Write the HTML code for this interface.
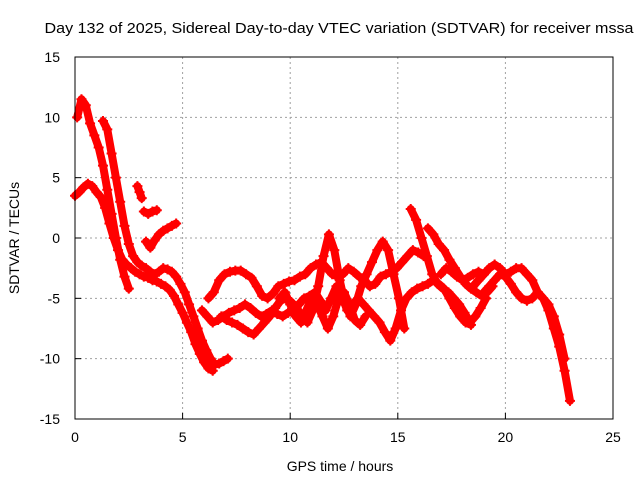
<!DOCTYPE html>
<html><head><meta charset="utf-8"><style>
body{margin:0;background:#fff}
svg{display:block;font-family:"Liberation Sans",sans-serif}
</style></head><body>
<svg id="chart" width="640" height="480">
<text x="339" y="33" font-size="15" text-anchor="middle" textLength="589" lengthAdjust="spacingAndGlyphs">Day 132 of 2025, Sidereal Day-to-day VTEC variation (SDTVAR) for receiver mssa</text>
<text x="340" y="471" font-size="14" text-anchor="middle">GPS time / hours</text>
<text transform="translate(19,238) rotate(-90)" font-size="14" text-anchor="middle">SDTVAR / TECUs</text>
<g id="grid"></g>
<g id="ticks"></g>
<g id="marks"></g>
<rect x="75" y="57" width="538" height="362" fill="none" stroke="#000" stroke-width="1"/>
</svg>
<script>
const xTicks=[0,5,10,15,20,25];
const yTicks=[-15,-10,-5,0,5,10,15];
const trackA_t0=0.1, trackA_dt=0.2;
const trackA_v=[10,11.5,11,9.5,8.5,7.5,6,4,2,0,-1.8,-3.2,-4.2];
const trackB_t0=0, trackB_dt=0.2;
const trackB_v=[3.5,3.8,4.2,4.5,4.3,3.8,3.4,2.5,1.2,0,-1,-1.8,-2.2,-2.5,-2.8,-3,-3.2,-3.3,-3.5,-3.6,-3.8,-4,-4.3,-4.8,-5.5,-6.2,-7,-7.8,-8.8,-9.6,-10.3,-10.8,-11];
const trackC_t0=1.3, trackC_dt=0.2;
const trackC_v=[9.7,9,7,5,3,1,-0.5,-1.5,-2,-2.3,-2.5,-2.8,-3,-2.8,-2.5,-2.6,-2.8,-3.2,-3.8,-4.5,-5.5,-6.5,-7.5,-8.5,-9.3,-10,-10.5,-10.4,-10.2,-10];
const trackG1_t0=2.9, trackG1_dt=0.1;
const trackG1_v=[4.3,3.8,3.3];
const trackG2_t0=3.2, trackG2_dt=0.2;
const trackG2_v=[2.2,2.0,2.2,2.3];
const trackG3_t0=3.3, trackG3_dt=0.2;
const trackG3_v=[-0.3,-0.8,-0.2,0.3,0.6,0.8,1.0,1.2];
const trackD_t0=6.2, trackD_dt=0.25;
const trackD_v=[-5,-4.5,-3.5,-3,-2.8,-2.7,-2.7,-3,-3.3,-4,-4.8,-5,-4.6,-4,-3.8,-3.6,-3.5,-3.2,-3,-2.5,-2.2,-2,-2.5,-3,-3.2,-3,-2.5,-2.8,-3.2,-3.5,-4,-3.8,-3.2,-3,-2.8,-2.5,-2,-1.5,-1,-1.2,-1.5];
const trackE_t0=5.9, trackE_dt=0.25;
const trackE_v=[-6,-6.5,-7,-6.8,-6.5,-6.2,-6,-5.8,-5.5,-5.8,-6.2,-6.5,-6.3,-6,-6.3,-6.5,-6.2,-6,-5.5,-5,-4.8,-4.5,-5.2,-6,-5,-4,-4.8,-6,-5.5,-5,-5.5,-6,-6.5,-7,-7.8,-8.5,-7.5,-6,-5,-4.5,-4.2,-4,-3.8,-3.5,-3.8,-4.2,-5,-5.8,-6.5,-7,-7.2];
const trackF_t0=6.8, trackF_dt=0.25;
const trackF_v=[-6.5,-6.8,-7,-7.2,-7.5,-7.8,-8,-7.5,-7,-6.5,-5.8,-5.2,-5,-5.3,-5.8,-6.5,-7,-6,-4,-1.5,0.3,-1,-3.5,-5.5,-6.5,-5.5,-4,-3,-2,-1,-0.3,-1,-3,-5,-7.5];
const trackH_t0=9.5, trackH_dt=0.25;
const trackH_v=[-5,-4.5,-5.5,-6.5,-7,-6,-5,-5.5,-6.5,-7.5,-6.5,-5,-4.5,-5.5,-6.8,-7.2,-6.5];
const trackI_t0=15.6, trackI_dt=0.25;
const trackI_v=[2.4,1.5,0,-1.5,-3,-3.8,-4.2,-4.5,-5,-5.5,-6.2,-7,-6.5,-5.8,-5];
const trackJ_t0=16.4, trackJ_dt=0.25;
const trackJ_v=[0.8,0.3,-0.5,-1,-1.8,-2.5,-3.2,-3.8,-4.2,-4.5,-4.8,-4.5,-4];
const trackK_t0=18.5, trackK_dt=0.25;
const trackK_v=[-4,-3.5,-3,-2.5,-2.2,-2.5,-3,-2.8,-2.5,-2.5,-3,-3.5,-4.5,-5,-6,-7.5,-9,-11,-13.5];
const trackL_t0=19, trackL_dt=0.25;
const trackL_v=[-4.5,-4,-3.5,-3,-3.2,-3.8,-4.5,-5,-5.2,-5,-4.5,-5,-5.5,-6.5,-8,-10];
const trackM_t0=17, trackM_dt=0.25;
const trackM_v=[-3,-2.5,-2.8,-3.2,-3.5,-3.3,-3,-2.8,-3];

const X0=75,X1=613,Y0=419,Y1=57;
function sx(t){return X0+(t-0)/(25-0)*(X1-X0);}
function sy(v){return Y0-(v+15)/30*(Y0-Y1);}
const NS='http://www.w3.org/2000/svg';
const grid=document.getElementById('grid'),ticks=document.getElementById('ticks'),marks=document.getElementById('marks');
function mk(tag,attrs,parent){const e=document.createElementNS(NS,tag);for(const k in attrs)e.setAttribute(k,attrs[k]);parent.appendChild(e);return e;}
xTicks.forEach(t=>{
  const x=sx(t);
  if(t>0&&t<25){const g=mk('line',{x1:x,y1:Y0,x2:x,y2:Y1,stroke:'#a0a0a0','stroke-dasharray':'2,3'},grid);
  
  }
  const l=mk('line',{x1:x,y1:Y0,x2:x,y2:Y0-6,stroke:'#000'},ticks);
  
  
  const tx=mk('text',{x:x,y:Y0+23,'font-size':'14','text-anchor':'middle'},ticks);
  tx.textContent=t;
  
  
});
yTicks.forEach(v=>{
  const y=sy(v);
  if(v>-15&&v<15){const g=mk('line',{x1:X0,y1:y,x2:X1,y2:y,stroke:'#a0a0a0','stroke-dasharray':'2,3'},grid);
  
  }
  const l=mk('line',{x1:X0,y1:y,x2:X0+6,y2:y,stroke:'#000'},ticks);
  
  
  const tx=mk('text',{x:X0-15,y:y+5,'font-size':'14','text-anchor':'end'},ticks);
  tx.textContent=v;
  
  
});
const tracks=[[trackA_t0,trackA_dt,trackA_v],[trackB_t0,trackB_dt,trackB_v],[trackC_t0,trackC_dt,trackC_v],[trackG1_t0,trackG1_dt,trackG1_v],[trackG2_t0,trackG2_dt,trackG2_v],[trackG3_t0,trackG3_dt,trackG3_v],[trackD_t0,trackD_dt,trackD_v],[trackE_t0,trackE_dt,trackE_v],[trackF_t0,trackF_dt,trackF_v],[trackH_t0,trackH_dt,trackH_v],[trackI_t0,trackI_dt,trackI_v],[trackJ_t0,trackJ_dt,trackJ_v],[trackK_t0,trackK_dt,trackK_v],[trackL_t0,trackL_dt,trackL_v],[trackM_t0,trackM_dt,trackM_v]];
tracks.forEach(([t0,dt,vals])=>{
  const pts=vals.map((v,i)=>sx(t0+i*dt).toFixed(1)+','+sy(v).toFixed(1)).join(' ');
  const pl=mk('polyline',{points:pts,stroke:'#ff0000','stroke-width':'8','stroke-linejoin':'round','stroke-linecap':'round',fill:'none'},marks);
  
  
  vals.forEach((v,i)=>{
    const x=sx(t0+i*dt),y=sy(v);
    const p=mk('path',{d:`M${x-5},${y}H${x+5}M${x},${y-5}V${y+5}`,stroke:'#ff0000','stroke-width':'2',fill:'none'},marks);
    
    
  });
});
</script>
</body></html>
